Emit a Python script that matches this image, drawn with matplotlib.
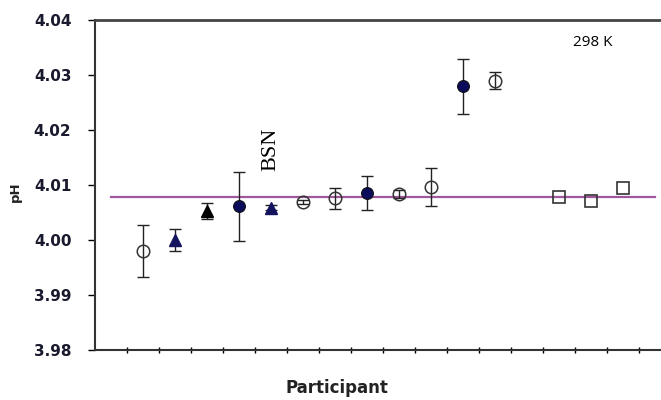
import matplotlib
matplotlib.use("Agg")
import matplotlib.pyplot as plt

# participant slots on the category axis (1..18)
line_x = list(range(1, 19))
ref_value = 4.0079

open_x = [2, 7, 8, 10, 11, 13]
open_y = [3.9980, 4.0069, 4.0076, 4.0084, 4.0096, 4.0290]
open_err = [0.0047, 0.0004, 0.0019, 0.0007, 0.0035, 0.0015]

tri_x = [3, 4, 6]
tri_y = [4.0000, 4.0053, 4.0059]
tri_err = [0.0020, 0.0014, 0.0004]
tri_colors = ["#14145e", "#000000", "#14145e"]

fill_x = [5, 9, 12]
fill_y = [4.0061, 4.0086, 4.0280]
fill_err = [0.0063, 0.0031, 0.0050]

sq_x = [15, 16, 17]
sq_y = [4.0078, 4.0071, 4.0094]

yticks = [3.98, 3.99, 4.00, 4.01, 4.02, 4.03, 4.04]

fig = plt.figure(figsize=(6.61, 4.0), dpi=100)
ax = fig.add_axes([95 / 661, 50 / 400, 576 / 661, 330 / 400])

# reference value line
ax.plot(line_x, [ref_value] * len(line_x), color="#a0589c", lw=1.6, zorder=1)

# error bars
ax.errorbar(open_x, open_y, yerr=open_err, fmt="none", ecolor="#222222",
            elinewidth=1.0, capsize=4, capthick=1.0, zorder=2)
ax.errorbar(tri_x, tri_y, yerr=tri_err, fmt="none", ecolor="#222222",
            elinewidth=1.0, capsize=4, capthick=1.0, zorder=2)
ax.errorbar(fill_x, fill_y, yerr=fill_err, fmt="none", ecolor="#222222",
            elinewidth=1.0, capsize=4, capthick=1.0, zorder=2)

# markers
ax.plot(open_x, open_y, "o", ms=9, mfc="none", mec="#333333", mew=1.1, zorder=3)
for x, y, c in zip(tri_x, tri_y, tri_colors):
    ax.plot(x, y, "^", ms=8, mfc=c, mec=c, zorder=3)
ax.plot(fill_x, fill_y, "o", ms=8.5, mfc="#0c0c5c", mec="#111111", mew=0.8, zorder=3)
ax.plot(sq_x, sq_y, "s", ms=9, mfc="none", mec="#333333", mew=1.2, zorder=3)

ax.set_xlim(0.5, 18.5)
ax.set_ylim(3.98, 4.04)
ax.set_yticks(yticks)
ax.set_yticklabels([f"{v:.2f}" for v in yticks], fontsize=11, fontweight="bold",
                   color="#1a1a2e")
ax.set_xticks([k + 0.5 for k in range(1, 18)])
ax.set_xticklabels([])
ax.tick_params(axis="y", direction="out", length=5, width=1, pad=12)
ax.tick_params(axis="x", direction="inout", length=5, width=1)

for side in ["left", "bottom"]:
    ax.spines[side].set_linewidth(1.5)
    ax.spines[side].set_color("#333333")
ax.spines["top"].set_linewidth(2)
ax.spines["top"].set_color("#444444")
ax.spines["right"].set_visible(False)

fig.text(15 / 661, 1 - 192 / 400, "pH", rotation=90, ha="center", va="center",
         fontsize=9.5, fontweight="bold", color="#222222")
fig.text(337 / 661, 1 - 388 / 400, "Participant", ha="center", va="center",
         fontsize=12, fontweight="bold", color="#222222")

ax.text(6, 4.0165, "BSN", rotation=90, ha="center", va="center",
        fontsize=16, family="Liberation Serif")
fig.text(593 / 661, 1 - 43 / 400, "298 K", ha="center", va="center",
         fontsize=11, family="Open Sans")

fig.savefig("out.png", dpi=100)
